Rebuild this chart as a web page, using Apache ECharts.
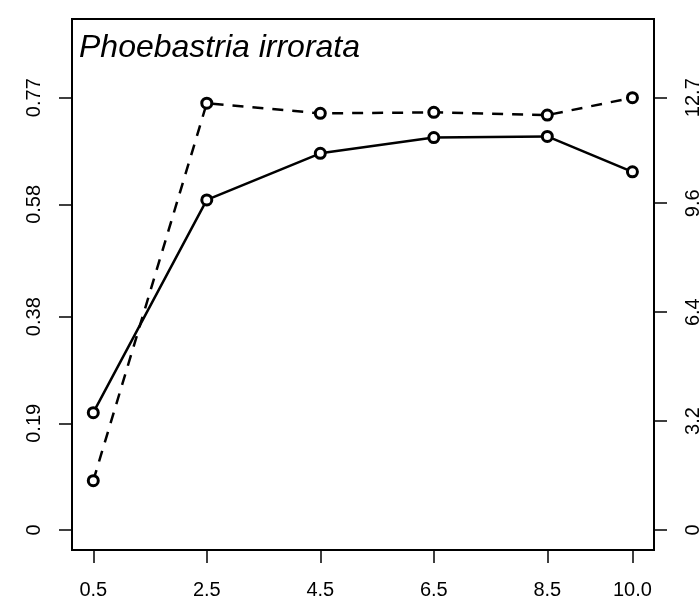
<!DOCTYPE html>
<html>
<head>
<meta charset="utf-8">
<script src="https://cdn.jsdelivr.net/npm/echarts@6/dist/echarts.min.js"></script>
<style>
html,body{margin:0;padding:0;background:#fff;}
#chart{width:700px;height:606px;}
</style>
</head>
<body>
<div id="chart"></div>
<script>
// ---- data ----
const xValues = [0.5, 2.5, 4.5, 6.5, 8.5, 10.0];
const xTickLabels = ['0.5', '2.5', '4.5', '6.5', '8.5', '10.0'];
const solidValues = [0.209, 0.588, 0.671, 0.699, 0.701, 0.638];     // left axis
const dashedValues = [1.45, 12.54, 12.24, 12.27, 12.19, 12.7];      // right axis
const leftTicks = [0, 0.19, 0.38, 0.58, 0.77];
const leftTickLabels = ['0', '0.19', '0.38', '0.58', '0.77'];
const rightTicks = [0, 3.2, 6.4, 9.6, 12.7];
const rightTickLabels = ['0', '3.2', '6.4', '9.6', '12.7'];
const titleText = 'Phoebastria irrorata';

const FONT = "'Liberation Sans', Arial, Helvetica, sans-serif";
const leftMin = -0.0356, leftMax = 0.9102;
const ratio = 12.7 / 0.77;

function labelFor(vals, labels) {
  return function (v) {
    for (let i = 0; i < vals.length; i++) {
      if (Math.abs(vals[i] - v) < 1e-6) return labels[i];
    }
    return '';
  };
}

const chart = echarts.init(document.getElementById('chart'), null, {renderer: 'canvas'});
const tickStyle = {show: true, length: 13, inside: false, lineStyle: {color: '#000', width: 1.5}};
const labelStyle = {color: '#000', fontSize: 20, fontFamily: FONT};

chart.setOption({
  animation: false,
  backgroundColor: '#fff',
  title: {
    text: titleText,
    left: 79,
    top: 32,
    padding: 0,
    textStyle: {fontFamily: FONT, fontStyle: 'italic', fontWeight: 'normal', fontSize: 32, color: '#000'}
  },
  grid: {
    left: 72, right: 46, top: 19, bottom: 56,
    containLabel: false, outerBoundsMode: 'none',
    show: true, borderColor: '#000', borderWidth: 2, backgroundColor: 'transparent'
  },
  xAxis: {
    type: 'value', min: 0.125, max: 10.38,
    splitLine: {show: false},
    axisLine: {show: false, onZero: false},
    axisTick: Object.assign({customValues: xValues}, tickStyle),
    axisLabel: Object.assign({customValues: xValues, margin: 30, formatter: labelFor(xValues, xTickLabels)}, labelStyle)
  },
  yAxis: [
    {
      type: 'value', position: 'left', min: leftMin, max: leftMax,
      splitLine: {show: false},
      axisLine: {show: false, onZero: false},
      axisTick: Object.assign({customValues: leftTicks}, tickStyle),
      axisLabel: Object.assign({customValues: leftTicks, rotate: 90, margin: 28, formatter: labelFor(leftTicks, leftTickLabels)}, labelStyle)
    },
    {
      type: 'value', position: 'right', min: leftMin * ratio, max: leftMax * ratio,
      splitLine: {show: false},
      axisLine: {show: false, onZero: false},
      axisTick: Object.assign({customValues: rightTicks}, tickStyle),
      axisLabel: Object.assign({customValues: rightTicks, rotate: 90, margin: 29, formatter: labelFor(rightTicks, rightTickLabels)}, labelStyle)
    }
  ],
  series: [
    {
      type: 'line', yAxisIndex: 0,
      data: xValues.map((x, i) => [x, solidValues[i]]),
      symbol: 'circle', symbolSize: 10, clip: false,
      lineStyle: {color: '#000', width: 2.5, type: 'solid'},
      itemStyle: {color: '#fff', borderColor: '#000', borderWidth: 3}
    },
    {
      type: 'line', yAxisIndex: 1,
      data: xValues.map((x, i) => [x, dashedValues[i]]),
      symbol: 'circle', symbolSize: 10, clip: false,
      lineStyle: {color: '#000', width: 2.5, type: [11, 9]},
      itemStyle: {color: '#fff', borderColor: '#000', borderWidth: 3}
    }
  ]
});
</script>
</body>
</html>
